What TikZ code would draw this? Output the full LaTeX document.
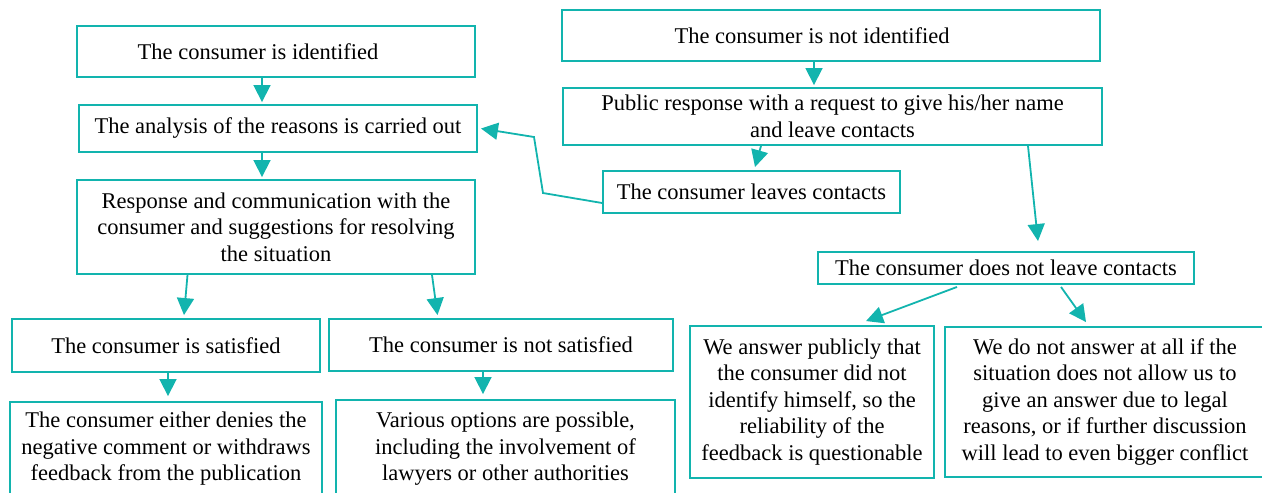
\documentclass[tikz,border=0pt]{standalone}
\usepackage{fontspec}
\setmainfont{Liberation Serif}
\usetikzlibrary{arrows.meta}
\definecolor{tealc}{RGB}{18,180,174}
\tikzset{
  box/.style={draw=tealc, line width=1.9pt, align=center, inner sep=0pt,
    font=\fontsize{22.5}{26.5}\selectfont, text=black},
  arr/.style={draw=tealc, line width=1.8pt, -{Triangle[length=17pt,width=17pt]}}
}
\begin{document}
\begin{tikzpicture}[x=1pt,y=-1pt]
\useasboundingbox (0,0) rectangle (1262,493);
\begin{scope}
\clip (0,0) rectangle (1262,493);
% left column
\node[box, minimum width=398pt, minimum height=51pt] (A) at (276,51.5) {The consumer is identified\hspace*{36pt}};
\node[box, minimum width=398pt, minimum height=47pt] (B) at (278,128.5) {The analysis of the reasons is carried out};
\node[box, minimum width=398pt, minimum height=94pt] (C) at (276,227) {Response and communication with the\\consumer and suggestions for resolving\\the situation};
\node[box, minimum width=308.5pt, minimum height=53pt] (D) at (166,345.5) {The consumer is satisfied};
\node[box, minimum width=343.5pt, minimum height=52pt] (E) at (501,345) {The consumer is not satisfied};
\node[box, minimum width=312pt, minimum height=94pt] (F) at (166,449) {The consumer either denies the\\negative comment or withdraws\\feedback from the publication};
\node[box, minimum width=339pt, minimum height=98pt] (G) at (505.5,449) {Various options are possible,\\including the involvement of\\lawyers or other authorities};
% right column
\node[box, minimum width=538pt, minimum height=51pt] (H) at (831,35.5) {The consumer is not identified\hspace*{38pt}};
\node[box, minimum width=539pt, minimum height=57pt] (I) at (832.5,116.5) {Public response with a request to give his/her name\\and leave contacts};
\node[box, minimum width=297pt, minimum height=42pt] (J) at (751.5,192) {The consumer leaves contacts};
\node[box, minimum width=376pt, minimum height=32pt] (K) at (1006,268) {The consumer does not leave contacts};
\node[box, minimum width=244pt, minimum height=152pt] (L) at (812,402) {We answer publicly that\\the consumer did not\\identify himself, so the\\reliability of the\\feedback is questionable};
\node[box, minimum width=320pt, minimum height=150pt] (M) at (1105,402) {We do not answer at all if the\\situation does not allow us to\\give an answer due to legal\\reasons, or if further discussion\\will lead to even bigger conflict};
% connectors
\coordinate (j1) at (543,193);
\coordinate (j2) at (534,137);
\draw[arr] ([xshift=-14pt]A.south) -- ([xshift=-16pt,yshift=2pt]B.north);
\draw[arr] ([xshift=-16pt]B.south) -- ([xshift=-14pt,yshift=2pt]C.north);
\draw[arr] ([yshift=-11pt]J.west) -- (j1) -- (j2) -- ([xshift=3pt]B.east);
\draw[arr] ([xshift=-17pt]H.south) -- ([xshift=-18.5pt,yshift=2pt]I.north);
\draw[arr] ([xshift=-71.5pt]I.south) -- ([xshift=3.5pt,yshift=3pt]J.north);
\draw[arr] ([xshift=195.5pt]I.south) -- ([xshift=32pt,yshift=10pt]K.north);
\draw[arr] ([xshift=-88.5pt]C.south) -- ([xshift=18pt,yshift=3pt]D.north);
\draw[arr] ([xshift=156pt]C.south) -- ([xshift=-63.5pt,yshift=3pt]E.north);
\draw[arr] ([xshift=2pt]D.south) -- ([xshift=2pt,yshift=5pt]F.north);
\draw[arr] ([xshift=-18pt]E.south) -- ([xshift=-22.5pt,yshift=5pt]G.north);
\draw[arr] ([xshift=-49pt,yshift=-2pt]K.south) -- ([xshift=54pt,yshift=4pt]L.north);
\draw[arr] ([xshift=55pt,yshift=-2pt]K.south) -- ([xshift=-19pt,yshift=4pt]M.north);
\end{scope}
\end{tikzpicture}
\end{document}
